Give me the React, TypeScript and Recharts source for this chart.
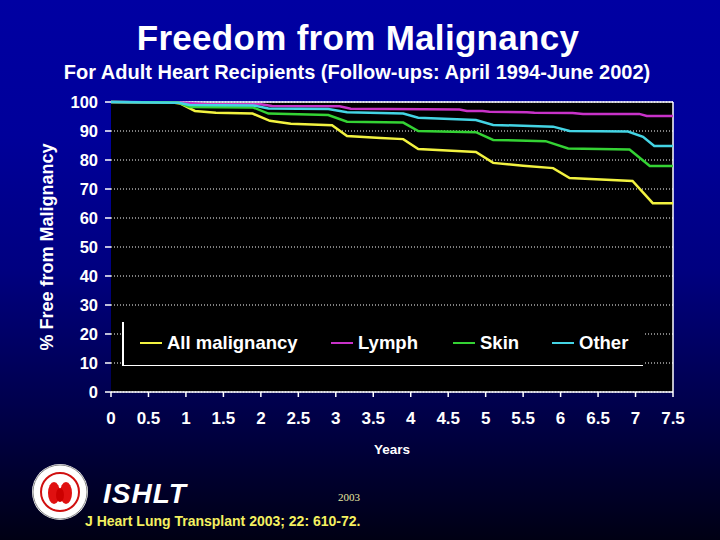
import React from "react";
import {
  LineChart,
  Line,
  XAxis,
  YAxis,
  CartesianGrid,
  ReferenceLine,
  Legend,
} from "recharts";

// ---- data (years after transplant, % free from malignancy) ----
const allT = [0, 0.85, 0.92, 1.12, 1.4, 1.89, 2.12, 2.4, 2.95, 3.15, 3.6, 3.9, 4.1, 4.87, 5.1, 5.5, 5.9, 6.12, 6.96, 7.23, 7.5];
const allV = [100, 99.7, 99.5, 96.9, 96.3, 96.0, 93.5, 92.5, 92.0, 88.3, 87.6, 87.2, 83.8, 82.8, 79.0, 78.0, 77.2, 73.8, 72.8, 65.1, 65.1];

const lymphT = [0, 0.9, 1.3, 2.0, 2.15, 3.05, 3.2, 4.65, 4.75, 4.96, 5.05, 5.55, 5.65, 6.16, 6.3, 7.05, 7.15, 7.5];
const lymphV = [100, 99.8, 99.2, 99.2, 98.6, 98.5, 97.7, 97.4, 96.9, 96.9, 96.6, 96.5, 96.3, 96.2, 95.9, 95.9, 95.2, 95.2];

const skinT = [0, 0.9, 1.05, 1.9, 2.1, 2.9, 3.15, 3.9, 4.1, 4.87, 5.1, 5.8, 6.1, 6.92, 7.19, 7.5];
const skinV = [100, 99.8, 98.3, 98.1, 96.0, 95.5, 93.2, 92.9, 90.0, 89.6, 86.9, 86.5, 84.0, 83.6, 77.9, 77.9];

const otherT = [0, 0.9, 1.05, 1.9, 2.1, 2.9, 3.15, 3.9, 4.1, 4.87, 5.1, 5.9, 6.12, 6.9, 7.1, 7.25, 7.5];
const otherV = [100, 99.7, 99.0, 98.8, 97.8, 97.6, 96.5, 96.0, 94.6, 93.8, 92.1, 91.5, 90.0, 89.8, 88.0, 84.8, 84.8];

const xTicks = [0, 0.5, 1, 1.5, 2, 2.5, 3, 3.5, 4, 4.5, 5, 5.5, 6, 6.5, 7, 7.5];
const yTicks = [0, 10, 20, 30, 40, 50, 60, 70, 80, 90, 100];

const seriesNames = ["All malignancy", "Lymph", "Skin", "Other"];
const seriesColors = ["#f2f240", "#c832c8", "#34d234", "#44d4e4"];

const toRows = (t: number[], v: number[]) => t.map((x, i) => ({ t: x, v: v[i] }));
const seriesData = [toRows(allT, allV), toRows(lymphT, lymphV), toRows(skinT, skinV), toRows(otherT, otherV)];

const FONT = "'Liberation Sans', Arial, Helvetica, sans-serif";

const LegendBox = () => {
  const itemX = [18, 209, 331, 430];
  return (
    <div style={{ position: "relative", width: 521, height: 44, background: "#000" }}>
      <div style={{ position: "absolute", left: 0, top: 0, width: 1.5, height: 44, background: "#fff" }} />
      <div style={{ position: "absolute", left: 0, bottom: 0, width: 521, height: 1.5, background: "#fff" }} />
      {seriesNames.map((n, i) => (
        <div
          key={n}
          style={{
            position: "absolute",
            left: itemX[i],
            top: 10,
            display: "flex",
            alignItems: "center",
            fontFamily: FONT,
            fontWeight: "bold",
            fontSize: 18.5,
            lineHeight: "22px",
            color: "#fff",
            whiteSpace: "nowrap",
          }}
        >
          <span style={{ display: "inline-block", width: 22, height: 2.5, background: seriesColors[i], marginRight: 5 }} />
          {n}
        </div>
      ))}
    </div>
  );
};

const Logo = () => (
  <svg width={60} height={60} style={{ position: "absolute", left: 30, top: 462 }}>
    <circle cx={30} cy={30} r={28} fill="#fff" />
    <circle cx={30} cy={30} r={27} fill="none" stroke="#888" strokeWidth={1} />
    <circle cx={30} cy={30} r={19} fill="none" stroke="#d01010" strokeWidth={2} />
    <circle cx={30} cy={30} r={16} fill="#fff" />
    <ellipse cx={24} cy={31} rx={6} ry={11} fill="#e01010" />
    <ellipse cx={36} cy={31} rx={6} ry={11} fill="#e01010" />
    <ellipse cx={30} cy={33} rx={4} ry={7} fill="#c00" />
  </svg>
);

export default function App() {
  return (
    <div
      style={{
        position: "absolute",
        left: 0,
        top: 0,
        width: 720,
        height: 540,
        overflow: "hidden",
        background: "linear-gradient(180deg, #0000a2 0%, #00009a 25%, #000080 50%, #00004c 75%, #000014 100%)",
        fontFamily: FONT,
      }}
    >
      <div
        style={{
          position: "absolute",
          left: 0,
          width: 716,
          top: 18,
          textAlign: "center",
          color: "#fff",
          fontWeight: "bold",
          fontSize: 35,
          lineHeight: "40px",
          letterSpacing: 0.3,
        }}
      >
        Freedom from Malignancy
      </div>
      <div
        style={{
          position: "absolute",
          left: 0,
          width: 714,
          top: 60,
          textAlign: "center",
          color: "#fff",
          fontWeight: "bold",
          fontSize: 20,
          lineHeight: "24px",
          whiteSpace: "nowrap",
        }}
      >
        For Adult Heart Recipients (Follow-ups: April 1994-June 2002)
      </div>

      <div style={{ position: "absolute", left: 0, top: 0 }}>
        <LineChart width={720} height={540} margin={{ top: 102, right: 47, bottom: 88, left: 0 }}>
          <CartesianGrid
            horizontal
            vertical={false}
            stroke="#ffffff"
            strokeDasharray="1 2"
            strokeWidth={1}
            fill="#000000"
            fillOpacity={1}
          />
          <XAxis
            dataKey="t"
            type="number"
            domain={[0, 7.5]}
            ticks={xTicks}
            allowDuplicatedCategory={false}
            height={60}
            tickSize={5}
            tickMargin={15}
            axisLine={{ stroke: "#fff", strokeWidth: 1.5 }}
            tickLine={{ stroke: "#fff", strokeWidth: 1.5 }}
            tick={{ fill: "#fff", fontSize: 17, fontWeight: "bold", fontFamily: FONT }}
            label={(props: any) => {
              const vb = props.viewBox || {};
              return (
                <text
                  x={vb.x + vb.width / 2}
                  y={vb.y + 62}
                  textAnchor="middle"
                  fill="#fff"
                  fontSize={13.5}
                  fontWeight="bold"
                  fontFamily={FONT}
                >
                  Years
                </text>
              );
            }}
          />
          <YAxis
            type="number"
            domain={[0, 100]}
            ticks={yTicks}
            width={111}
            tickSize={6}
            tickMargin={7}
            axisLine={false}
            tickLine={{ stroke: "#fff", strokeWidth: 1.5 }}
            tick={{ fill: "#fff", fontSize: 16.5, fontWeight: "bold", fontFamily: FONT }}
            label={(props: any) => {
              const vb = props.viewBox || {};
              const cx = 47;
              const cy = vb.y + vb.height / 2;
              return (
                <text
                  x={cx}
                  y={cy}
                  transform={`rotate(-90 ${cx} ${cy})`}
                  textAnchor="middle"
                  dominantBaseline="central"
                  fill="#fff"
                  fontSize={18}
                  fontWeight="bold"
                  fontFamily={FONT}
                >
                  % Free from Malignancy
                </text>
              );
            }}
          />
          <ReferenceLine y={100} stroke="#fff" strokeWidth={1.5} />
          <ReferenceLine x={7.5} stroke="#fff" strokeWidth={1.5} />
          <Legend
            layout="horizontal"
            verticalAlign="middle"
            align="center"
            wrapperStyle={{ left: 122, top: 322, width: 521, height: 44 }}
            content={() => <LegendBox />}
          />
          {seriesData.map((d, i) => (
            <Line
              key={seriesNames[i]}
              data={d}
              dataKey="v"
              name={seriesNames[i]}
              type="linear"
              stroke={seriesColors[i]}
              strokeWidth={2.5}
              dot={false}
              activeDot={false}
              isAnimationActive={false}
            />
          ))}
        </LineChart>
      </div>

      <Logo />
      <div
        style={{
          position: "absolute",
          left: 103,
          top: 477,
          color: "#fff",
          fontStyle: "italic",
          fontWeight: "bold",
          fontSize: 28,
          letterSpacing: 1,
          lineHeight: "34px",
        }}
      >
        ISHLT
      </div>
      <div
        style={{
          position: "absolute",
          left: 338,
          top: 490,
          color: "#e8e8a0",
          fontFamily: "'Liberation Serif', 'DejaVu Serif', serif",
          fontSize: 11,
          lineHeight: "14px",
        }}
      >
        2003
      </div>
      <div
        style={{
          position: "absolute",
          left: 85,
          top: 513,
          color: "#f4f060",
          fontWeight: "bold",
          fontSize: 14,
          lineHeight: "17px",
          whiteSpace: "nowrap",
        }}
      >
        J Heart Lung Transplant 2003; 22: 610-72.
      </div>
    </div>
  );
}
